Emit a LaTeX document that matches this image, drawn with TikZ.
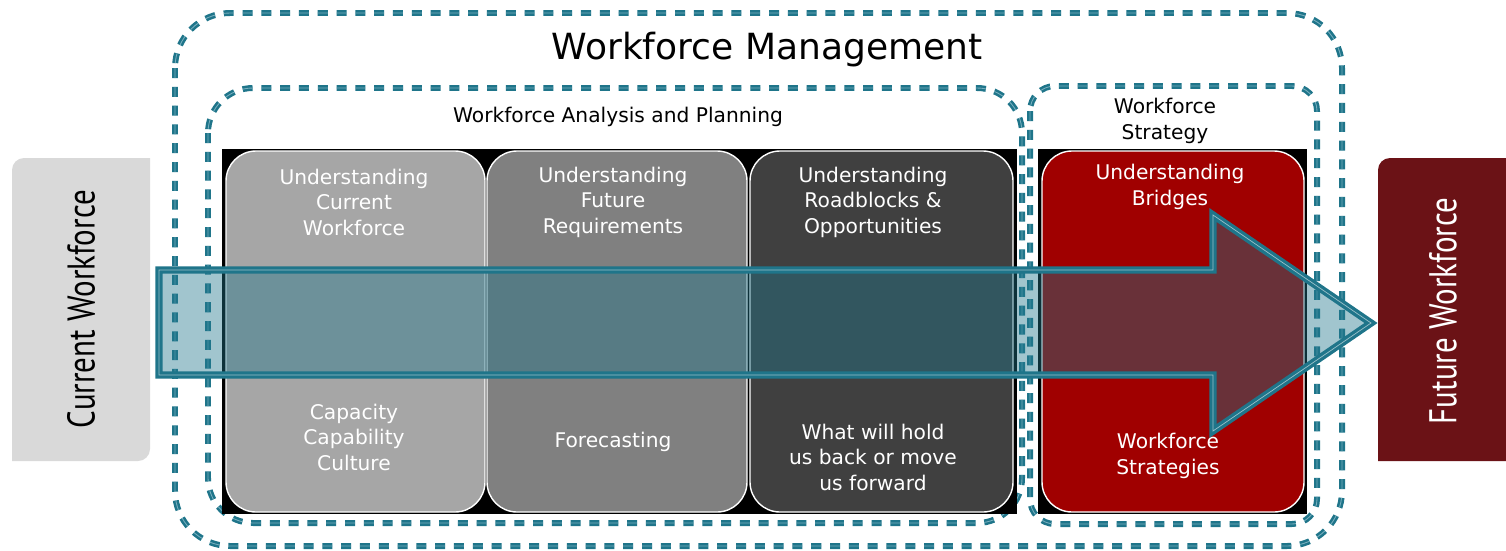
\documentclass[tikz,border=0pt]{standalone}
\usepackage{fontspec}
\setmainfont{DejaVu Sans}
\newfontfamily\sidefont{PT Sans}
\usetikzlibrary{shapes}
\definecolor{tl}{RGB}{31,117,138}
\definecolor{tlL}{RGB}{120,175,190}
\definecolor{cgA}{RGB}{166,166,166}
\definecolor{cgB}{RGB}{128,128,128}
\definecolor{cgC}{RGB}{64,64,64}
\definecolor{cred}{RGB}{160,0,0}
\definecolor{fwred}{RGB}{107,18,22}
\definecolor{cwgray}{RGB}{217,217,217}
\tikzstyle{dbox}=[draw=tl,line width=1.45pt,double=tlL,double distance=0.5pt,dash pattern=on 5.7pt off 5pt]
\tikzstyle{card}=[rectangle,rounded corners=6mm,draw=white,line width=0.8pt,minimum height=72.2mm,inner sep=0pt]
\tikzstyle{ct}=[text=white,align=center,font=\fontsize{11.5}{14.5}\selectfont]
\tikzstyle{hd}=[align=center,font=\fontsize{11.5}{14.5}\selectfont]
\tikzstyle{side}=[rotate=90,font=\sidefont\fontsize{22}{24}\selectfont]
\tikzstyle{bigarrow}=[fill=tl,fill opacity=0.42,draw=tl,line width=1.9pt,double=tl!45!white,double distance=0.4pt]

\begin{document}
\begin{tikzpicture}[x=0.2mm,y=-0.2mm]
\useasboundingbox (0,0) rectangle (1506,550);
% side boxes
\fill[cwgray] (12,310) [rounded corners=2.4mm] -- (12,158) [sharp corners] -- (150,158) [rounded corners=2.4mm] -- (150,461) [sharp corners] -- (12,461) -- cycle;
\fill[fwred] (1378,461) [rounded corners=2.4mm] -- (1378,158) [sharp corners] -- (1506,158) -- (1506,461) -- cycle;
\node[side] (cw) at (81,309) {\scalebox{0.8}[1]{Current Workforce}};
\node[side,text=white] (fw) at (1443,311) {\scalebox{0.8}[1]{Future Workforce}};
% dashed frames
\draw[dbox,rounded corners=11mm] (175,13) rectangle (1342,546);
\draw[dbox,rounded corners=9mm] (208,88) rectangle (1022,523);
\draw[dbox,rounded corners=5mm] (1030,86) rectangle (1317,524);
\node[font=\fontsize{20.5}{24}\selectfont] (wm) at (767,50) {Workforce Management};
\node[hd] (wap) at (618,117) {Workforce Analysis and Planning};
\node[hd] (ws) at (1165,121) {Workforce\\Strategy};
% cards
\fill[black] (222,149) rectangle (1017,514);
\fill[black] (1038,149) rectangle (1307,514);
\node[card,fill=cgA,minimum width=51.8mm] (c1) at (355.5,331.5) {};
\node[card,fill=cgB,minimum width=52mm] (c2) at (617,331.5) {};
\node[card,fill=cgC,minimum width=52.6mm] (c3) at (881.5,331.5) {};
\node[card,fill=cred,minimum width=52.4mm] (c4) at (1173,331.5) {};
\node[ct] (c1t) at (354,202) {Understanding\\Current\\Workforce};
\node[ct] (c1b) at (354,437) {Capacity\\Capability\\Culture};
\node[ct] (c2t) at (613,202) {Understanding\\Future\\Requirements};
\node[ct] (c2b) at (613,442) {Forecasting};
\node[ct] (c3t) at (873,202) {Understanding\\Roadblocks \&\\Opportunities};
\node[ct] (c3b) at (873,457) {What will hold\\us back or move\\us forward};
\node[ct] (c4t) at (1170,187) {Understanding\\Bridges};
\node[ct] (c4b) at (1168,456) {Workforce\\Strategies};
% arrow
\draw[bigarrow] (159,270) -- (1213,270) -- (1213,215) -- (1371,323) -- (1213,431) -- (1213,375) -- (159,375) -- cycle;
\end{tikzpicture}
\end{document}
